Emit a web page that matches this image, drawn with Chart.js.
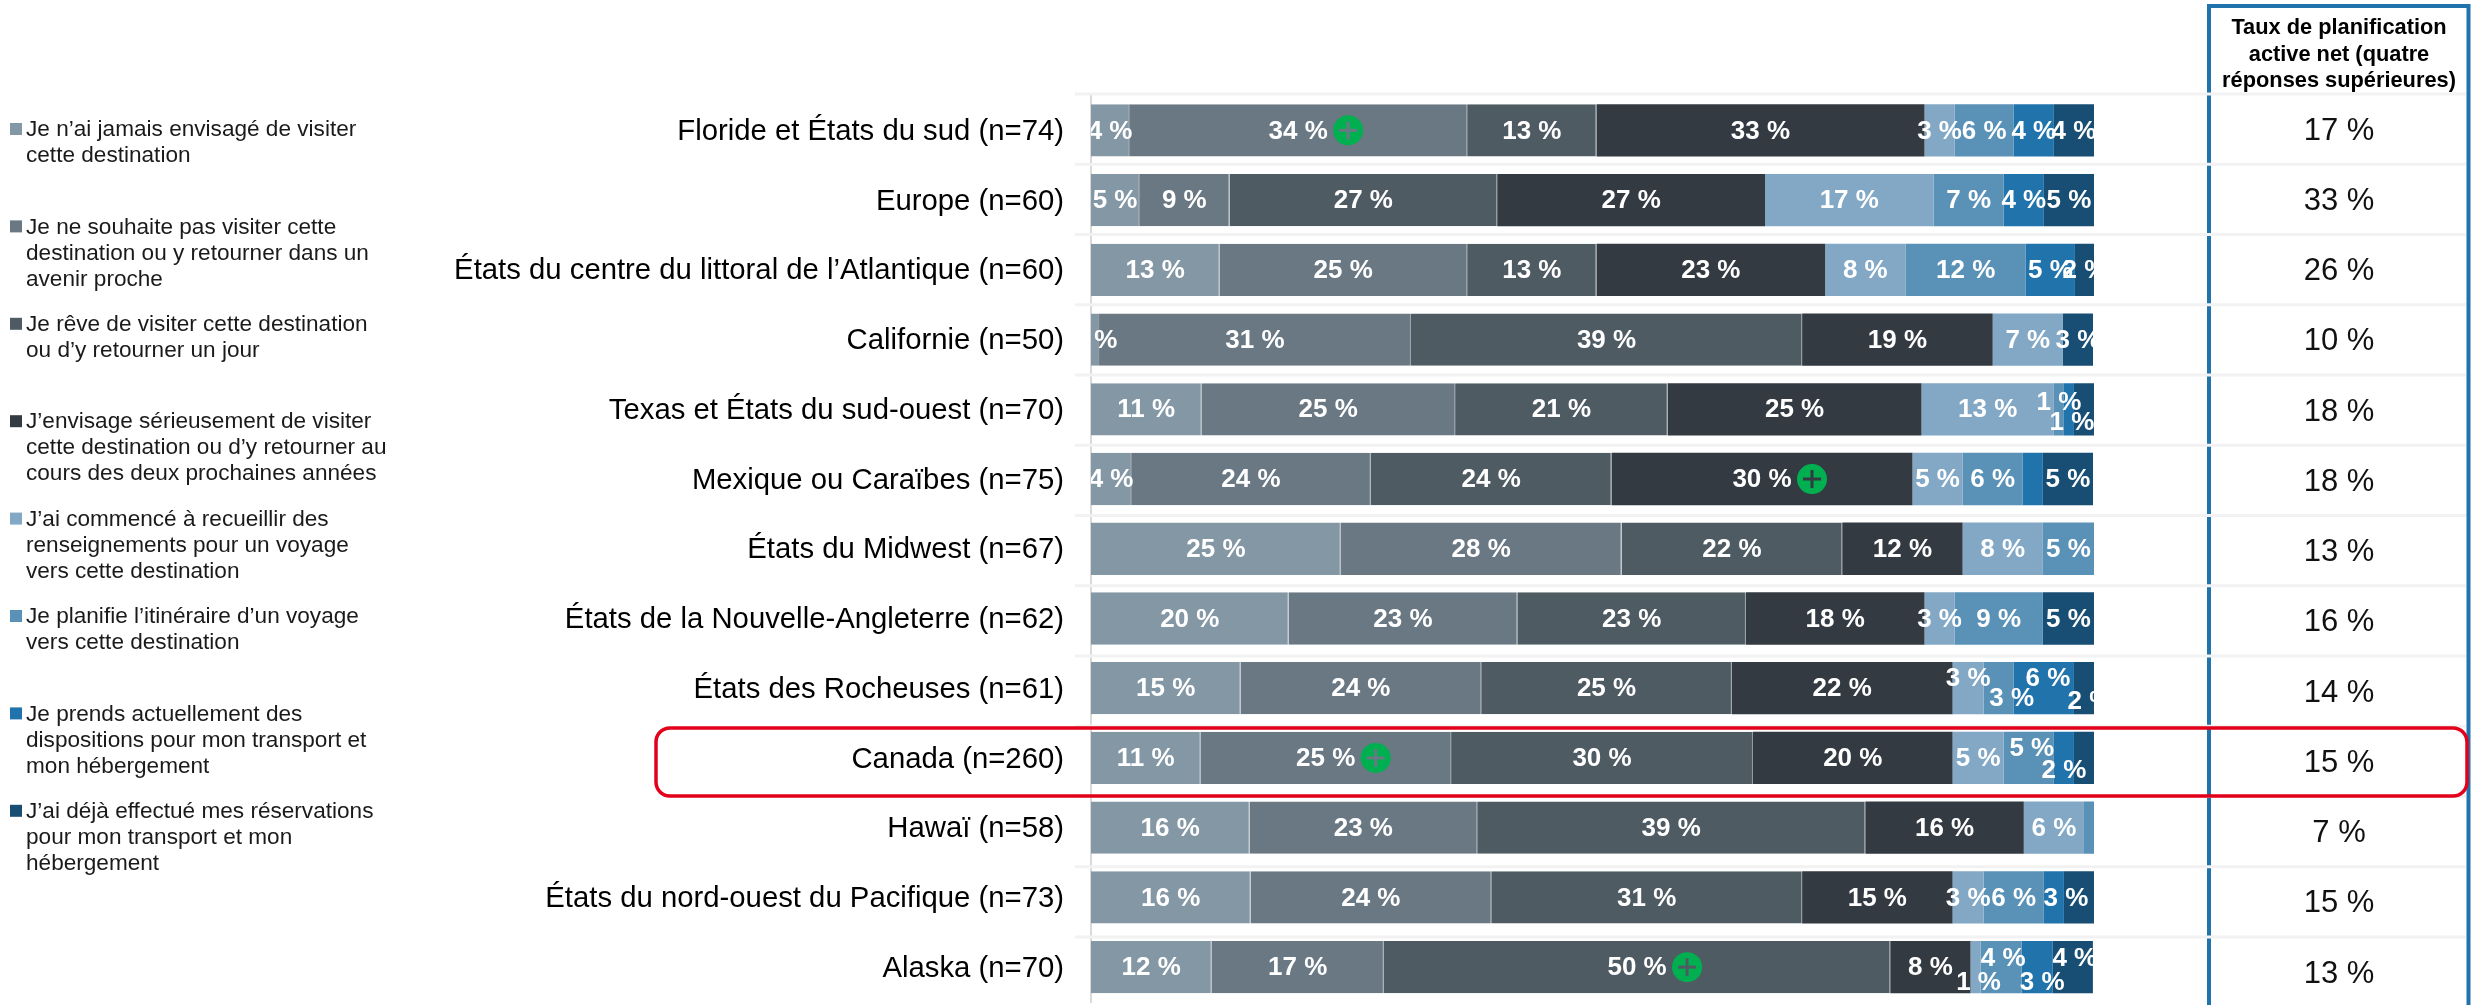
<!DOCTYPE html>
<html lang="fr">
<head>
<meta charset="utf-8">
<title>Taux de planification active</title>
<script src="https://cdn.jsdelivr.net/npm/chart.js@4"></script>
<style>html,body{margin:0;padding:0;background:#fff}canvas{display:block}</style>
</head>
<body>
<canvas id="c" width="2471" height="1005"></canvas>
<script>
const categories = [
  "Floride et États du sud (n=74)",
  "Europe (n=60)",
  "États du centre du littoral de l’Atlantique (n=60)",
  "Californie (n=50)",
  "Texas et États du sud-ouest (n=70)",
  "Mexique ou Caraïbes (n=75)",
  "États du Midwest (n=67)",
  "États de la Nouvelle-Angleterre (n=62)",
  "États des Rocheuses (n=61)",
  "Canada (n=260)",
  "Hawaï (n=58)",
  "États du nord-ouest du Pacifique (n=73)",
  "Alaska (n=70)"
];
const jamaisEnvisage = [3.8,4.8,12.8,0.8,11,4,24.9,19.7,14.9,10.9,15.8,15.9,12];
const neSouhaitePas  = [33.7,9,24.7,31.1,25.3,23.9,28,22.8,24,25,22.7,24,17.2];
const reve           = [12.9,26.7,12.9,39,21.2,24,22,22.8,25,30.1,38.7,31,50.49];
const envisage       = [32.7,26.7,22.8,19,25.3,30,12,17.8,22,19.9,15.8,15,8];
const renseignements = [3,16.8,8,7,13.2,5,8,3,3.1,5.1,6,3.1,1];
const itineraire     = [5.9,7,12,0,1,6,5.1,8.8,3,5,1,6,4.1];
const dispositions   = [4,4,4.9,0,1,2,0,0,6,2,0,2,3.1];
const reservations   = [4,5,2,3,2,5,0,5.1,2,2,0,3,4];
const netPlanification = [17,33,26,10,18,18,13,16,14,15,7,15,13];

const seriesValues = [jamaisEnvisage,neSouhaitePas,reve,envisage,renseignements,itineraire,dispositions,reservations];
const seriesColors = ["#8497a5","#697883","#4f5b63","#343a41","#82a8c6","#5a91b7","#2173ac","#184e73"];
const legendLines = [
  ["Je n’ai jamais envisagé de visiter","cette destination"],
  ["Je ne souhaite pas visiter cette","destination ou y retourner dans un","avenir proche"],
  ["Je rêve de visiter cette destination","ou d’y retourner un jour"],
  ["J’envisage sérieusement de visiter","cette destination ou d’y retourner au","cours des deux prochaines années"],
  ["J’ai commencé à recueillir des","renseignements pour un voyage","vers cette destination"],
  ["Je planifie l’itinéraire d’un voyage","vers cette destination"],
  ["Je prends actuellement des","dispositions pour mon transport et","mon hébergement"],
  ["J’ai déjà effectué mes réservations","pour mon transport et mon","hébergement"]
];
const headerLines = ["Taux de planification","active net (quatre","réponses supérieures)"];
// significant-difference markers: [series, category]
const plusMarks = [[1,0],[3,5],[1,9],[2,12]];
// labels that the original omits: "series:category"
const hiddenLabels = new Set(["7:4","6:5","7:9","5:10","6:11"]);
// label displacement in the original: "series:category" -> [dx, dy]
const labelShift = {
  "5:4":[0,-7],"6:4":[3,13],
  "4:8":[0,-10],"5:8":[13,10],"6:8":[4,-10],"7:8":[6,13],
  "5:9":[3,-10],"6:9":[0,12],
  "7:11":[-13,0],
  "4:12":[3,15],"5:12":[2,-9],"6:12":[5,15],"7:12":[2,-9]
};

const FONT = '"Liberation Sans", Arial, sans-serif';
const RULE_TOP = 94, RULE_PITCH = 70.25;
const PLOT_TOP = 95.5, PLOT_BOTTOM = 1002;

const decorations = {
  id: 'decorations',
  afterLayout(chart) {
    // pin the plot's vertical extent to the reference
    const y = chart.scales.y;
    y.top = PLOT_TOP; y.bottom = PLOT_BOTTOM; y.height = PLOT_BOTTOM - PLOT_TOP;
    y.configure();
    chart.chartArea.top = PLOT_TOP;
    chart.chartArea.bottom = PLOT_BOTTOM;
    chart.chartArea.height = PLOT_BOTTOM - PLOT_TOP;
  },
  beforeDatasetsDraw(chart) {
    const {ctx} = chart;
    ctx.save();
    // table frame
    ctx.strokeStyle = '#2173ac'; ctx.lineWidth = 4;
    ctx.beginPath();
    ctx.moveTo(2209, 1005); ctx.lineTo(2209, 6); ctx.lineTo(2468.5, 6); ctx.lineTo(2468.5, 1005);
    ctx.stroke();
    // row rules
    ctx.strokeStyle = '#f2f2f2'; ctx.lineWidth = 3;
    categories.concat(['']).forEach((_, i) => {
      const y = RULE_TOP + i * RULE_PITCH;
      if (y > 1000) return;
      ctx.beginPath(); ctx.moveTo(1075, y); ctx.lineTo(2466, y); ctx.stroke();
    });
    ctx.restore();
  },
  afterDatasetsDraw(chart) {
    const {ctx, chartArea} = chart;
    ctx.save();
    // value labels, clipped to the plot as in the original
    ctx.save();
    ctx.beginPath();
    ctx.rect(chartArea.left, 0, chartArea.right - chartArea.left, chart.height);
    ctx.clip();
    ctx.font = 'bold 26px ' + FONT;
    ctx.fillStyle = '#fff';
    ctx.textAlign = 'center'; ctx.textBaseline = 'middle';
    seriesValues.forEach((vals, s) => {
      const meta = chart.getDatasetMeta(s);
      vals.forEach((v, c) => {
        if (!v || hiddenLabels.has(s + ':' + c)) return;
        const el = meta.data[c];
        const sh = labelShift[s + ':' + c] || [0, 0];
        ctx.fillText(Math.round(v) + '\u00a0%', (el.x + el.base) / 2 + sh[0], el.y + 1 + sh[1]);
      });
    });
    ctx.restore();
    // green plus markers
    plusMarks.forEach(([s, c]) => {
      const el = chart.getDatasetMeta(s).data[c];
      const cx = (el.x + el.base) / 2 + 50, cy = el.y;
      ctx.fillStyle = '#00b050';
      ctx.beginPath(); ctx.arc(cx, cy, 15, 0, Math.PI * 2); ctx.fill();
      ctx.fillStyle = seriesColors[s];
      ctx.fillRect(cx - 9, cy - 1.5, 18, 3);
      ctx.fillRect(cx - 1.5, cy - 9, 3, 18);
    });
    // net rate column
    ctx.fillStyle = '#111';
    ctx.font = '31px ' + FONT;
    ctx.textAlign = 'center'; ctx.textBaseline = 'middle';
    netPlanification.forEach((v, i) => {
      ctx.fillText(v + '\u00a0%', 2339, RULE_TOP + (i + 0.5) * RULE_PITCH + 2);
    });
    ctx.font = 'bold 21.8px ' + FONT;
    ctx.fillStyle = '#000';
    headerLines.forEach((t, i) => ctx.fillText(t, 2339, 28 + i * 26.5));
    // legend
    ctx.textAlign = 'left'; ctx.textBaseline = 'middle';
    ctx.font = '22.6px ' + FONT;
    legendLines.forEach((lines, i) => {
      const y0 = 130 + i * 97.4;
      ctx.fillStyle = seriesColors[i];
      ctx.fillRect(10, y0 - 7, 12, 12);
      ctx.fillStyle = '#1a1a1a';
      lines.forEach((t, j) => ctx.fillText(t, 26, y0 + j * 26));
    });
    // highlight around Canada
    ctx.strokeStyle = '#e2001a'; ctx.lineWidth = 3.5;
    ctx.beginPath();
    ctx.roundRect(656, 728, 1811, 68, 14);
    ctx.stroke();
    ctx.restore();
  }
};

new Chart(document.getElementById('c'), {
  type: 'bar',
  plugins: [decorations],
  data: {
    labels: categories,
    datasets: seriesValues.map((values, i) => ({
      label: legendLines[i].join(' '),
      data: values,
      backgroundColor: seriesColors[i],
      borderColor: '#8d9aa5',
      borderWidth: i < 3 ? {right: 1} : 0,
      borderSkipped: false,
      barPercentage: 0.75,
      categoryPercentage: 1
    }))
  },
  options: {
    indexAxis: 'y',
    responsive: false,
    animation: false,
    layout: {autoPadding: false, padding: {left: 0, right: 377, top: 0, bottom: 0}},
    plugins: {legend: {display: false}, tooltip: {enabled: false}, title: {display: false}},
    scales: {
      x: {stacked: true, display: false, min: 0, max: 100},
      y: {
        stacked: true,
        afterFit(scale) { scale.width = 1091; },
        grid: {display: false, drawTicks: false},
        border: {display: true, color: '#d9d9d9', width: 2},
        ticks: {
          autoSkip: false, padding: 27, color: '#000', labelOffset: 1.5,
          font: {family: 'Liberation Sans', size: 29.3}
        }
      }
    }
  }
});
</script>
</body>
</html>
